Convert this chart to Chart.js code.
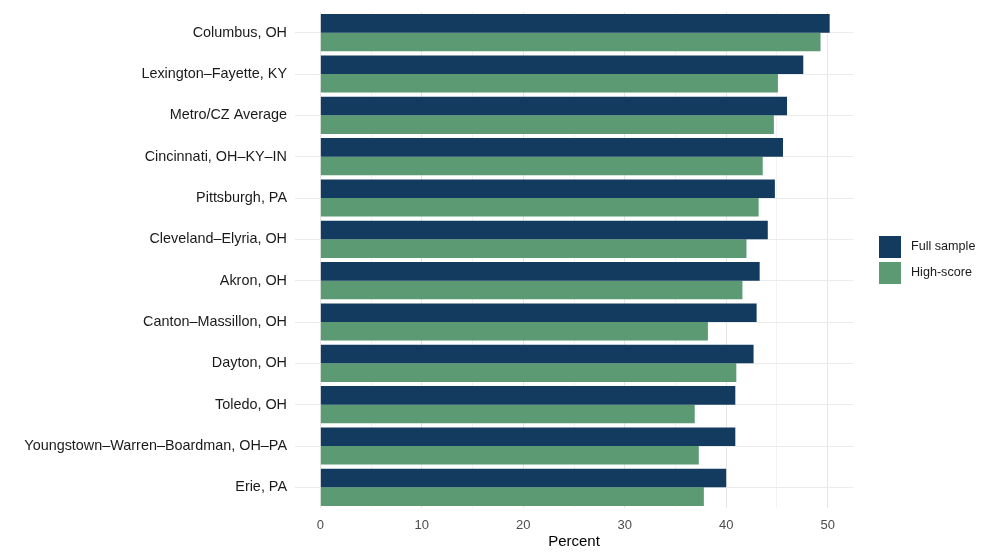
<!DOCTYPE html>
<html>
<head>
<meta charset="utf-8">
<script src="https://cdn.jsdelivr.net/npm/chart.js@4.4.0/dist/chart.umd.min.js"></script>
<style>
  html, body { margin: 0; padding: 0; background: #ffffff; }
  #wrap { width: 991px; height: 557px; }
</style>
</head>
<body>
<div id="wrap"><canvas id="myChart"></canvas></div>
<script>
const regions = [
  "Columbus, OH",
  "Lexington–Fayette, KY",
  "Metro/CZ Average",
  "Cincinnati, OH–KY–IN",
  "Pittsburgh, PA",
  "Cleveland–Elyria, OH",
  "Akron, OH",
  "Canton–Massillon, OH",
  "Dayton, OH",
  "Toledo, OH",
  "Youngstown–Warren–Boardman, OH–PA",
  "Erie, PA"
];
const fullSample = [50.2, 47.6, 46.0, 45.6, 44.8, 44.1, 43.3, 43.0, 42.7, 40.9, 40.9, 40.0];
const highScore = [49.3, 45.1, 44.7, 43.6, 43.2, 42.0, 41.6, 38.2, 41.0, 36.9, 37.3, 37.8];
const xTicks = [0, 5, 10, 15, 20, 25, 30, 35, 40, 45, 50];

const seriesNames = ["Full sample", "High-score"];
const seriesColors = ["#133b5f", "#5b9a73"];

const FONT = "'Liberation Sans', Arial, sans-serif";

// legend drawn by hand, ggplot style
const sideLegend = {
  id: "sideLegend",
  afterDraw(chart) {
    const ctx = chart.ctx;
    const boxX = 879, top = 236, size = 22, gap = 4;
    ctx.save();
    ctx.font = "12.6px " + FONT;
    ctx.textBaseline = "middle";
    ctx.textAlign = "left";
    chart.data.datasets.forEach(function (ds, i) {
      const y = top + i * (size + gap);
      ctx.fillStyle = ds.backgroundColor;
      ctx.fillRect(boxX, y, size, size);
      ctx.fillStyle = "#1a1a1a";
      ctx.fillText(ds.label, boxX + size + 10, y + size / 2);
    });
    ctx.restore();
  }
};

const ctx = document.getElementById("myChart").getContext("2d");

const data = {
  labels: regions,
  datasets: [
    {
      label: seriesNames[0],
      data: fullSample,
      backgroundColor: seriesColors[0],
      categoryPercentage: 0.9,
      barPercentage: 1.0,
    },
    {
      label: seriesNames[1],
      data: highScore,
      backgroundColor: seriesColors[1],
      categoryPercentage: 0.9,
      barPercentage: 1.0,
    },
  ],
};

const config = {
  type: "bar",
  data: data,
  options: {
    indexAxis: "y",
    responsive: true,
    maintainAspectRatio: false,
    animation: false,
    layout: {
      padding: { top: 12, right: 138, left: 0, bottom: 0 },
    },
    plugins: {
      legend: { display: false },
      tooltip: { enabled: false },
    },
    scales: {
      x: {
        min: -2.5,
        max: 52.5,
        afterBuildTicks: function (scale) {
          scale.ticks = xTicks.map((v) => ({ value: v }));
        },
        afterFit: function (scale) {
          scale.height = 49;
        },
        border: { display: false },
        grid: {
          drawTicks: false,
          color: function (c) {
            return c.tick && c.tick.value % 10 === 0 ? "#e6e6e6" : "#f3f3f3";
          },
          lineWidth: 1,
        },
        ticks: {
          padding: 10,
          color: "#4d4d4d",
          font: { family: FONT, size: 13 },
          callback: function (v) {
            return v % 10 === 0 ? v : "";
          },
        },
        title: {
          display: true,
          text: "Percent",
          color: "#000000",
          font: { family: FONT, size: 15 },
          padding: { top: 0, bottom: 6 },
        },
      },
      y: {
        afterFit: function (scale) {
          scale.width = 295;
          scale.paddingTop = 0;
          scale.paddingBottom = 0;
        },
        border: { display: false },
        grid: {
          offset: false,
          drawTicks: false,
          color: "#ebebeb",
        },
        ticks: {
          padding: 8,
          color: "#1a1a1a",
          font: { family: FONT, size: 14.4 },
        },
      },
    },
  },
  plugins: [sideLegend],
};

const regionChart = new Chart(ctx, config);
</script>
</body>
</html>
